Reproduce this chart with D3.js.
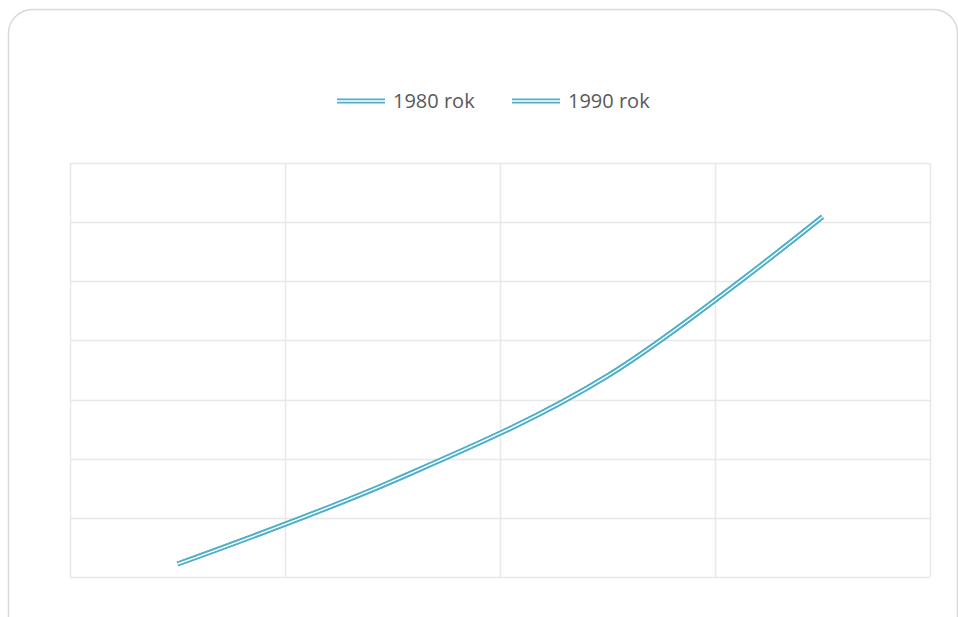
<!DOCTYPE html>
<html>
<head>
<meta charset="utf-8">
<script src="https://cdn.jsdelivr.net/npm/d3@7"></script>
<style>
  body { margin: 0; background: #fff; }
  svg { display: block; }
</style>
</head>
<body>
<div id="chart"></div>
<script>
// categories and values (axis labels are hidden)
var categories = ["A", "B", "C", "D"];
var seriesNames = ["1980 rok", "1990 rok"];
var values1980 = [2.2, 16.2, 34.0, 60.9];
var values1990 = [2.2, 16.2, 34.0, 60.9];
var yTicks = [0, 10, 20, 30, 40, 50, 60, 70];

var width = 958, height = 617;
var margin = {top: 163, right: 28, bottom: 40, left: 70};
var plotW = width - margin.left - margin.right;
var plotH = height - margin.top - margin.bottom;
var color = "#4fb0c9";

var svg = d3.select("#chart").append("svg")
  .attr("width", width)
  .attr("height", height);

// card frame
svg.append("rect")
  .attr("x", 8.5).attr("y", 9.5)
  .attr("width", 949).attr("height", 632)
  .attr("rx", 24).attr("ry", 24)
  .attr("fill", "#fff")
  .attr("stroke", "#d9d9d9")
  .attr("stroke-width", 1.5);

var g = svg.append("g")
  .attr("transform", "translate(" + margin.left + "," + margin.top + ")");

var xScale = d3.scaleBand()
  .domain(categories)
  .range([0, plotW]);

var yScale = d3.scaleLinear()
  .domain([0, 70])
  .range([plotH, 0]);

// horizontal gridlines
g.selectAll(".hgrid")
  .data(yTicks)
  .enter()
  .append("line")
  .attr("class", "hgrid")
  .attr("x1", 0).attr("x2", plotW)
  .attr("y1", function(d) { return Math.round(yScale(d)) + 0.5; })
  .attr("y2", function(d) { return Math.round(yScale(d)) + 0.5; })
  .attr("stroke", "#e8e8e8")
  .attr("stroke-width", 1.5);

// vertical gridlines at category boundaries
var bounds = categories.map(function(c) { return xScale(c); }).concat([plotW]);
g.selectAll(".vgrid")
  .data(bounds)
  .enter()
  .append("line")
  .attr("class", "vgrid")
  .attr("x1", function(d) { return Math.round(d) + 0.5; })
  .attr("x2", function(d) { return Math.round(d) + 0.5; })
  .attr("y1", 0).attr("y2", plotH)
  .attr("stroke", "#e8e8e8")
  .attr("stroke-width", 1.5);

var line = d3.line()
  .x(function(d, i) { return xScale(categories[i]) + xScale.bandwidth() / 2; })
  .y(function(d) { return yScale(d); })
  .curve(d3.curveCardinal.tension(0));

// double (compound) line: thick teal stroke with a thin white core
[values1980, values1990].forEach(function(vals) {
  g.append("path")
    .datum(vals)
    .attr("fill", "none")
    .attr("stroke", color)
    .attr("stroke-width", 5)
    .attr("d", line);
  g.append("path")
    .datum(vals)
    .attr("fill", "none")
    .attr("stroke", "#fff")
    .attr("stroke-width", 1.4)
    .attr("d", line);
});

// legend
var legend = svg.append("g").attr("transform", "translate(0,101)");
var legendX = [337, 512];
seriesNames.forEach(function(name, i) {
  var lg = legend.append("g").attr("transform", "translate(" + legendX[i] + ",0)");
  lg.append("line")
    .attr("x1", 0).attr("x2", 48)
    .attr("y1", 0).attr("y2", 0)
    .attr("stroke", color).attr("stroke-width", 5);
  lg.append("line")
    .attr("x1", 0).attr("x2", 48)
    .attr("y1", 0).attr("y2", 0)
    .attr("stroke", "#fff").attr("stroke-width", 1.4);
  lg.append("text")
    .attr("x", 56)
    .attr("y", 0)
    .attr("dy", "0.35em")
    .style("font-family", "'Open Sans', sans-serif")
    .style("font-size", "20px")
    .attr("fill", "#595959")
    .text(name);
});
</script>
</body>
</html>
